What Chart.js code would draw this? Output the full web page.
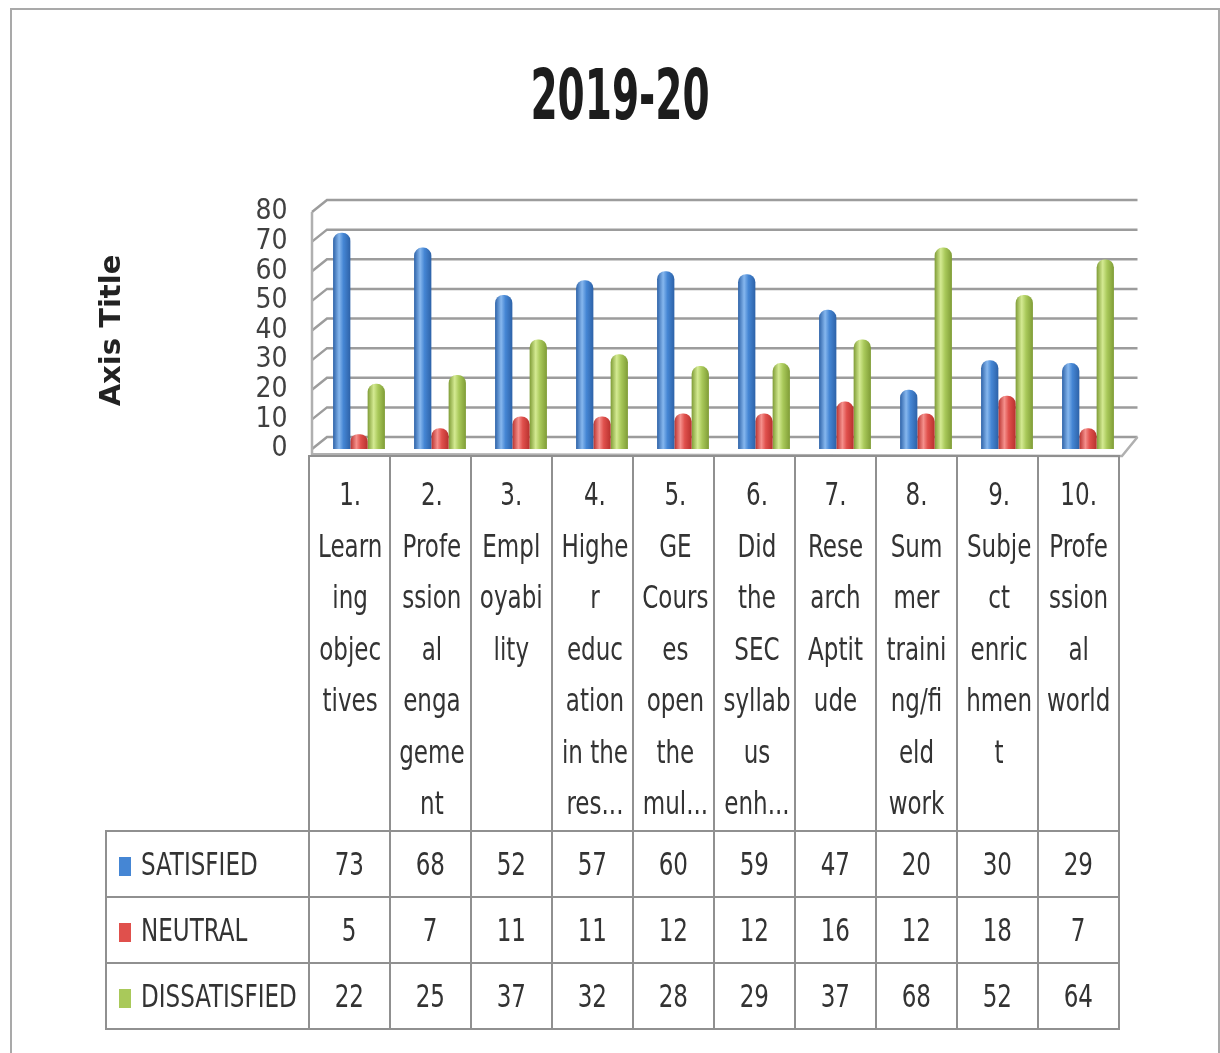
<!DOCTYPE html>
<html>
<head>
<meta charset="utf-8">
<title>2019-20</title>
<script src="https://cdn.jsdelivr.net/npm/chart.js@4.4.0/dist/chart.umd.min.js"></script>
<style>
    body { margin: 0; background: #fff; width: 1220px; height: 1053px; overflow: hidden; position: relative; }
    #frame { position: absolute; left: 10px; top: 8px; width: 1206px; height: 1100px; border: 2px solid #a9a9a9; }
    #title {
        position: absolute; left: 0; top: 60px; width: 1240px; text-align: center;
        font-family: "DejaVu Sans Condensed", "DejaVu Sans", sans-serif; font-weight: bold;
        font-size: 70px; line-height: 70px; color: #1c1c1c;
        transform: scaleX(0.62); transform-origin: 620px 0;
    }
    #chartBox { position: absolute; left: 10px; top: 0; }
    #dataTable {
        position: absolute; left: 105px; top: 455px;
        border-collapse: collapse; table-layout: fixed; width: 1013px;
        font-family: "DejaVu Sans Condensed", "DejaVu Sans", sans-serif;
        color: #333; font-size: 32px;
    }
    #dataTable td { border: 2px solid #909090; text-align: center; padding: 0; white-space: nowrap; }
    #dataTable tr.cats td { vertical-align: top; line-height: 51.5px; padding-top: 12px; height: 360px; }
    #dataTable tr.cats td.blank { border-top: none; border-left: none; }
    #dataTable tr.series td { height: 64px; vertical-align: middle; }
    #dataTable td.name { text-align: left; padding-left: 12px; }
    .sq { display: inline-block; transform: scaleX(0.8); transform-origin: 50% 50%; }
    td.name .sq { transform-origin: 0 50%; }
    .key { display: inline-block; width: 12px; height: 19px; margin-right: 10px; vertical-align: -1px; }
</style>
</head>
<body>
<div id="frame"></div>
<div id="title">2019-20</div>
<div id="chartBox"><canvas id="chart" width="1200" height="509"></canvas></div>
<table id="dataTable"></table>

<script>
const categories = [
    ["1.", "Learn", "ing", "objec", "tives"],
    ["2.", "Profe", "ssion", "al", "enga", "geme", "nt"],
    ["3.", "Empl", "oyabi", "lity"],
    ["4.", "Highe", "r", "educ", "ation", "in the", "res..."],
    ["5.", "GE", "Cours", "es", "open", "the", "mul..."],
    ["6.", "Did", "the", "SEC", "syllab", "us", "enh..."],
    ["7.", "Rese", "arch", "Aptit", "ude"],
    ["8.", "Sum", "mer", "traini", "ng/fi", "eld", "work"],
    ["9.", "Subje", "ct", "enric", "hmen", "t"],
    ["10.", "Profe", "ssion", "al", "world"]
];
const seriesNames = ["SATISFIED", "NEUTRAL", "DISSATISFIED"];
const satisfied = [73, 68, 52, 57, 60, 59, 47, 20, 30, 29];
const neutral = [5, 7, 11, 11, 12, 12, 16, 12, 18, 7];
const dissatisfied = [22, 25, 37, 32, 28, 29, 37, 68, 52, 64];
const yMin = 0, yMax = 80, yStep = 10;

const FONT = '"DejaVu Sans Condensed", "DejaVu Sans", sans-serif';
// dark edge, main, highlight
const palette = [
    ["#2d62a8", "#4586d4", "#86b7ee"],
    ["#b8312e", "#e0504c", "#f5908c"],
    ["#7f9c36", "#a9c95a", "#d4ea92"]
];

function cylinder(cols) {
    return function(c) {
        const el = c.element;
        if (!el || !el.width || isNaN(el.x)) return cols[1];
        const g = c.chart.ctx.createLinearGradient(el.x - el.width / 2, 0, el.x + el.width / 2, 0);
        g.addColorStop(0, cols[0]);
        g.addColorStop(0.35, cols[2]);
        g.addColorStop(0.6, cols[1]);
        g.addColorStop(1, cols[0]);
        return g;
    };
}

// back wall, side wall and floor in the 3d look
const wallPlugin = {
    id: 'wall',
    beforeDatasetsDraw(chart) {
        const { ctx, chartArea, scales: { y } } = chart;
        const depthX = 15, depthY = 12;
        const fx = chartArea.left - 6.5;
        const bx = fx + depthX;
        const rx = chartArea.right + 9;
        const y0 = y.getPixelForValue(yMin);
        ctx.save();
        ctx.strokeStyle = '#9c9c9c';
        ctx.lineWidth = 2.5;
        y.ticks.forEach(t => {
            const yy = y.getPixelForValue(t.value);
            ctx.beginPath();
            ctx.moveTo(fx, yy);
            ctx.lineTo(bx, yy - depthY);
            ctx.lineTo(rx, yy - depthY);
            ctx.stroke();
        });
        ctx.strokeStyle = '#b0b0b0';
        ctx.beginPath();
        ctx.moveTo(fx, y.getPixelForValue(yMax));
        ctx.lineTo(fx, y0 + 5);
        ctx.lineTo(chartArea.right - 6.5, y0 + 7);
        ctx.lineTo(rx, y0 - depthY);
        ctx.stroke();
        ctx.restore();
    }
};

const chart = new Chart(document.getElementById('chart'), {
    type: 'bar',
    data: {
        labels: categories,
        datasets: [
            { label: seriesNames[0], data: satisfied, backgroundColor: cylinder(palette[0]) },
            { label: seriesNames[1], data: neutral, backgroundColor: cylinder(palette[1]) },
            { label: seriesNames[2], data: dissatisfied, backgroundColor: cylinder(palette[2]) }
        ]
    },
    options: {
        responsive: false,
        animation: false,
        categoryPercentage: 0.64,
        barPercentage: 1.0,
        borderRadius: 8,
        layout: { padding: { left: 84.6, right: 81.5, top: 212, bottom: 60 } },
        plugins: {
            legend: { display: false },
            tooltip: { enabled: false },
            title: { display: false }
        },
        scales: {
            x: { display: false },
            y: {
                min: yMin,
                max: yMax,
                ticks: {
                    stepSize: yStep,
                    autoSkip: false,
                    padding: 31,
                    color: '#404040',
                    font: { family: FONT, size: 28 }
                },
                grid: { display: false, drawTicks: false },
                border: { display: false },
                title: {
                    display: true,
                    text: 'Axis Title',
                    color: '#222',
                    font: { family: '"DejaVu Sans", sans-serif', size: 29, weight: 'bold' },
                    padding: { top: 0, bottom: 0 }
                },
                afterFit(scale) { scale.width = 223.9; }
            }
        }
    },
    plugins: [wallPlugin]
});
chart.update();

function buildTable() {
    const table = document.getElementById('dataTable');
    let html = '<colgroup><col style="width:203px">';
    categories.forEach(() => { html += '<col style="width:81px">'; });
    html += '</colgroup><tr class="cats"><td class="blank"></td>';
    categories.forEach(lines => { html += `<td><span class="sq">${lines.join('<br>')}</span></td>`; });
    html += '</tr>';
    [satisfied, neutral, dissatisfied].forEach((vals, i) => {
        html += `<tr class="series"><td class="name"><span class="key" style="background:${palette[i][1]}"></span><span class="sq">${seriesNames[i]}</span></td>`;
        vals.forEach(v => { html += `<td><span class="sq">${v}</span></td>`; });
        html += '</tr>';
    });
    table.innerHTML = html;
}

buildTable();
</script>
</body>
</html>
